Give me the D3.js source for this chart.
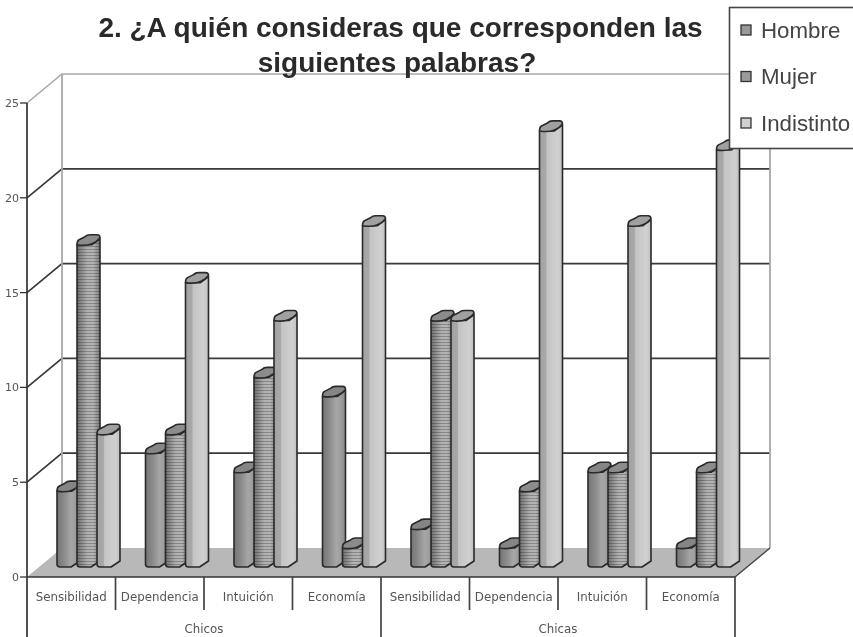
<!DOCTYPE html>
<html><head><meta charset="utf-8">
<script src="https://cdn.jsdelivr.net/npm/d3@7"></script>
<style>html,body{margin:0;background:#fff}svg{display:block;font-family:"Liberation Sans",Arial,sans-serif;filter:blur(0.45px)}</style>
</head><body><div id="c"></div>
<script>
const groups = ["Chicos","Chicas"];
const categories = ["Sensibilidad","Dependencia","Intuición","Economía","Sensibilidad","Dependencia","Intuición","Economía"];
const series = ["Hombre","Mujer","Indistinto"];
const hombre = [4,6,5,9,2,1,5,1];
const mujer = [17,7,10,1,13,4,5,5];
const indistinto = [7,15,13,18,13,23,18,22];
const yTicks = [0,5,10,15,20,25];
const titleLines = ["2. ¿A quién consideras que corresponden las","siguientes palabras?"];

const W=853,H=637;
const svg=d3.select("#c").append("svg").attr("width",W).attr("height",H);
const defs=svg.append("defs");
function grad(id,stops){const g=defs.append("linearGradient").attr("id",id);
 stops.forEach(s=>g.append("stop").attr("offset",s[0]).attr("stop-color",s[1]));}
grad("gH",[[0,"#757575"],[.3,"#8a8a8a"],[.6,"#a6a6a6"],[.75,"#a0a0a0"],[1,"#8a8a8a"]]);
grad("gM",[[0,"#707070"],[.45,"#b0b0b0"],[.7,"#b4b4b4"],[1,"#7a7a7a"]]);
grad("gI",[[0,"#a2a2a2"],[.28,"#a8a8a8"],[.33,"#c4c4c4"],[.8,"#d0d0d0"],[1,"#c0c0c0"]]);
const pat=defs.append("pattern").attr("id","stripe").attr("patternUnits","userSpaceOnUse").attr("width",20).attr("height",3);
pat.append("rect").attr("width",20).attr("height",1).attr("fill","#000").attr("opacity",.24);

const x=d3.scaleBand().domain(d3.range(8)).range([27,735]);
const y=d3.scaleLinear().domain([0,25]).range([577,103]);
const dx=35,dy=-29;
const barBase=y(0)-10;
const xIn=d3.scaleBand().domain(series).range([30,90]);
const line=d3.line();

const gridDark="#3a3a3a",wallGray="#a8a8a8";
svg.append("path").attr("d",line([[27,y(0)],[27+dx,y(0)+dy],[735+dx,y(0)+dy],[735,y(0)]])+"Z").attr("fill","#b8b8b8");
yTicks.forEach(t=>{
 const c=t===25?wallGray:gridDark;
 if(t>0) svg.append("path").attr("d",line([[27,y(t)],[27+dx,y(t)+dy],[735+dx,y(t)+dy]])).attr("fill","none").attr("stroke",c).attr("stroke-width",t===25?1.5:1.7);
});
svg.append("path").attr("d",line([[27+dx,y(25)+dy],[27+dx,y(0)+dy]])).attr("stroke",wallGray).attr("stroke-width",1.8);
svg.append("path").attr("d",line([[735+dx,y(25)+dy],[735+dx,y(0)+dy]])).attr("stroke",wallGray).attr("stroke-width",1.8);
svg.append("path").attr("d",line([[735,y(0)],[735+dx,y(0)+dy]])).attr("stroke","#444").attr("stroke-width",1.4);

svg.append("path").attr("d",line([[27,y(25)],[27,637]])).attr("stroke","#333").attr("stroke-width",1.7);
svg.append("path").attr("d",line([[27,y(0)],[735,y(0)]])).attr("stroke","#333").attr("stroke-width",1.7);
svg.append("path").attr("d",line([[735,y(0)],[735,637]])).attr("stroke","#444").attr("stroke-width",1.7);
svg.append("path").attr("d",line([[x(4),y(0)],[x(4),637]])).attr("stroke","#444").attr("stroke-width",1.7);
d3.range(1,8).filter(i=>i!==4).forEach(i=>svg.append("path").attr("d",line([[x(i),y(0)],[x(i),610]])).attr("stroke","#444").attr("stroke-width",1.7));
const ax=svg.append("g");
yTicks.forEach(t=>{
 ax.append("path").attr("d",line([[20,y(t)],[27,y(t)]])).attr("stroke","#333").attr("stroke-width",1.3);
 ax.append("text").attr("x",19).attr("y",y(t)+4).attr("text-anchor","end").attr("font-size",11).attr("fill","#555").attr("font-family","DejaVu Sans").text(t);
});
categories.forEach((c,i)=>svg.append("text").attr("x",x(i)+x.bandwidth()/2).attr("y",601).attr("text-anchor","middle")
 .attr("font-family","DejaVu Sans").attr("font-size",11.8).attr("fill","#555").text(c));
groups.forEach((g,i)=>svg.append("text").attr("x",x(i*4)+x.bandwidth()*2).attr("y",633).attr("text-anchor","middle")
 .attr("font-family","DejaVu Sans").attr("font-size",11.8).attr("fill","#555").text(g));

const values={Hombre:hombre,Mujer:mujer,Indistinto:indistinto};
const fills={Hombre:"url(#gH)",Mujer:"url(#gM)",Indistinto:"url(#gI)"};
const tops={Hombre:"#858585",Mujer:"#8c8c8c",Indistinto:"#a0a0a0"};
const BW=23,FW=15,SD=6,TD=9;
function bodyPath(x0,yt,yb){
 return `M${x0},${yt} L${x0},${yb-3} Q${x0},${yb} ${x0+3},${yb} L${x0+FW-1},${yb} L${x0+BW},${yb-SD} L${x0+BW},${yt-SD} L${x0+FW},${yt} Z`;
}
function topPath(x0,yt){
 return `M${x0},${yt} Q${x0+FW*.6},${yt+1.5} ${x0+FW},${yt-1} Q${x0+BW-3},${yt-3} ${x0+BW},${yt-SD-1} Q${x0+BW},${yt-TD-1} ${x0+BW-3},${yt-TD-1} L${x0+BW-10},${yt-TD-1} Q${x0+BW-13},${yt-TD-1} ${x0+8},${yt-TD+1} L${x0+2},${yt-TD+4} Q${x0},${yt-TD+5} ${x0},${yt} Z`;
}
d3.range(8).forEach(i=>series.forEach(s=>{
 const x0=x(i)+xIn(s), v=values[s][i];
 const yt=y(v)-10;
 const b=svg.append("g");
 b.append("path").attr("d",bodyPath(x0,yt,barBase)).attr("fill",fills[s]).attr("stroke","#2a2a2a").attr("stroke-width",1.6).attr("stroke-linejoin","round");
 if(s==="Mujer") b.append("path").attr("d",bodyPath(x0,yt,barBase)).attr("fill","url(#stripe)");
 b.append("path").attr("d",topPath(x0,yt)).attr("fill",tops[s]).attr("stroke","#2a2a2a").attr("stroke-width",1.6).attr("stroke-linejoin","round");
}));

titleLines.forEach((t,i)=>svg.append("text").attr("x",[400.5,397][i]).attr("y",[37,72][i]).attr("text-anchor","middle")
 .attr("font-size",28).attr("font-weight","bold").attr("fill","#2a2a2a").text(t));

const lg=svg.append("g");
lg.append("rect").attr("x",729.5).attr("y",7.5).attr("width",130).attr("height",141).attr("fill","#fff").attr("stroke","#444").attr("stroke-width",1.6);
const legFill={Hombre:"#999",Mujer:"#9a9a9a",Indistinto:"#cfcfcf"};
series.forEach((s,i)=>{
 const cy=30+i*46.5;
 lg.append("rect").attr("x",741).attr("y",cy-5).attr("width",10).attr("height",10).attr("fill",legFill[s]).attr("stroke","#333").attr("stroke-width",1.3);
 lg.append("text").attr("x",761).attr("y",cy+7.5).attr("font-size",22.3).attr("fill","#444").text(s);
});
</script></body></html>
